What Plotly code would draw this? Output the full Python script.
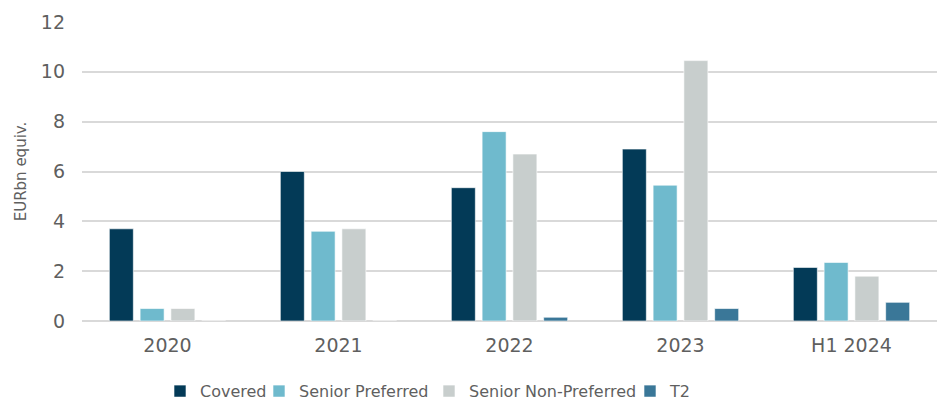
import plotly.graph_objects as go

categories = ["2020", "2021", "2022", "2023", "H1 2024"]
covered = [3.7, 6.0, 5.35, 6.9, 2.15]
senior_preferred = [0.5, 3.6, 7.6, 5.45, 2.35]
senior_non_preferred = [0.5, 3.7, 6.7, 10.45, 1.8]
t2 = [0.0, 0.0, 0.15, 0.5, 0.75]

series = [
    ("Covered", covered, "#033a57"),
    ("Senior Preferred", senior_preferred, "#6fbacd"),
    ("Senior Non-Preferred", senior_non_preferred, "#c8cecd"),
    ("T2", t2, "#3a7798"),
]

# each legend entry gets its own legend box so the spacing can be set per item
legend_ids = ["legend", "legend2", "legend3", "legend4"]
legend_x = [160, 259, 429, 630]

fig = go.Figure()
for (name, vals, color), lid in zip(series, legend_ids):
    fig.add_trace(go.Bar(
        x=categories, y=vals, name=name, legend=lid, showlegend=True,
        marker=dict(color=color, line=dict(color="rgba(255,255,255,0.6)", width=1)),
    ))

font_family = "DejaVu Sans, Arial, sans-serif"
text_color = "#5f5f5f"
legend_style = dict(orientation="h", xref="container", xanchor="left",
                    yref="container", y=0.022, yanchor="middle",
                    font=dict(size=16, color=text_color), itemwidth=30,
                    bgcolor="rgba(0,0,0,0)")

fig.update_layout(
    width=939, height=400, showlegend=True,
    margin=dict(l=82, r=2, t=22, b=79, autoexpand=False),
    paper_bgcolor="white", plot_bgcolor="white",
    barmode="group", bargap=0.28, bargroupgap=0.22,
    font=dict(family=font_family, size=19, color=text_color),
    xaxis=dict(showgrid=False, showline=False, ticks="", tickfont=dict(size=19),
               ticklabelstandoff=11),
    yaxis=dict(range=[0, 12], dtick=2, showgrid=True, gridcolor="#d9d9d9", gridwidth=2,
               zeroline=True, zerolinecolor="#d9d9d9", zerolinewidth=2,
               tickfont=dict(size=19), ticks="", ticklabelstandoff=16,
               title=dict(text="EURbn equiv.", font=dict(size=15, color=text_color), standoff=10)),
)
for lid, lx in zip(legend_ids, legend_x):
    fig.update_layout({lid: dict(legend_style, x=lx / 939)})

fig.write_html("out.html")
